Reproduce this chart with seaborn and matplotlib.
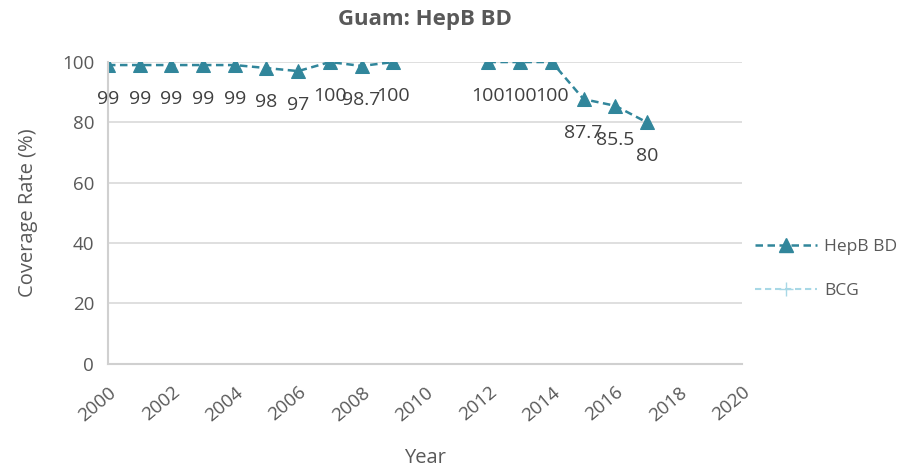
import numpy as np
import pandas as pd
import matplotlib
matplotlib.use("Agg")
import matplotlib.pyplot as plt
import seaborn as sns
from matplotlib.lines import Line2D

years = [2000, 2001, 2002, 2003, 2004, 2005, 2006, 2007, 2008, 2009,
         2012, 2013, 2014, 2015, 2016, 2017]
hepb_bd = [99, 99, 99, 99, 99, 98, 97, 100, 98.7, 100,
           100, 100, 100, 87.7, 85.5, 80]
segment = [0] * 10 + [1] * 6
labels = ["99", "99", "99", "99", "99", "98", "97", "100", "98.7", "100",
          "100", "100", "100", "87.7", "85.5", "80"]
x_ticks = list(range(2000, 2021, 2))
y_ticks = [0, 20, 40, 60, 80, 100]

df = pd.DataFrame({"Year": years, "Coverage": hepb_bd, "seg": segment})

sns.set_theme(style="white")
plt.rcParams['font.family'] = ['Open Sans', 'DejaVu Sans']

fig = plt.figure(figsize=(9.15, 4.7), dpi=100)
ax = fig.add_axes([0.118, 0.226, 0.693, 0.642])

c_hep = "#31869B"
c_bcg = "#A8D8E6"
txt = "#595959"

sns.lineplot(data=df, x="Year", y="Coverage", units="seg", estimator=None,
             color=c_hep, linestyle=(0, (3, 1.8)), linewidth=1.8,
             marker="^", markersize=10, markeredgecolor=c_hep, ax=ax, legend=False)

for x, y, l in zip(years, hepb_bd, labels):
    ax.annotate(l, (x, y), xytext=(0, -18), textcoords="offset points",
                ha="center", va="top", fontsize=14, color="#404040")

ax.set_xlim(2000, 2020)
ax.set_ylim(0, 100)
ax.set_xticks(x_ticks)
ax.set_yticks(y_ticks)
ax.set_xticklabels([str(t) for t in x_ticks], rotation=40, ha="right",
                   rotation_mode="anchor", fontsize=13.5, color=txt)
ax.set_yticklabels([str(t) for t in y_ticks], fontsize=13.5, color=txt)
ax.tick_params(axis="x", length=0, pad=14)
ax.tick_params(axis="y", length=0, pad=10)
ax.yaxis.grid(True, color="#D9D9D9", linewidth=1.2)
ax.xaxis.grid(False)
for s in ["top", "right"]:
    ax.spines[s].set_visible(False)
for s in ["left", "bottom"]:
    ax.spines[s].set_color("#D0D0D0")
    ax.spines[s].set_linewidth(1.5)

ax.set_xlabel("Year", fontsize=14.5, color=txt, labelpad=17)
ax.set_ylabel("Coverage Rate (%)", fontsize=14.5, color=txt, labelpad=17)
ax.set_title("Guam: HepB BD", fontsize=16, fontweight="bold", color=txt, pad=27)

handles = [
    Line2D([0], [0], color=c_hep, linestyle=(0, (3, 1.8)), linewidth=1.8,
           marker="^", markersize=10),
    Line2D([0], [0], color=c_bcg, linestyle=(0, (3, 1.8)), linewidth=1.5,
           marker="+", markersize=10),
]
fig.legend(handles, ["HepB BD", "BCG"], loc="center left",
           bbox_to_anchor=(0.808, 0.428), frameon=False, fontsize=12.5,
           labelcolor=txt, handlelength=3.6, handletextpad=0.4, labelspacing=1.6)

fig.savefig("out.png", dpi=100)
